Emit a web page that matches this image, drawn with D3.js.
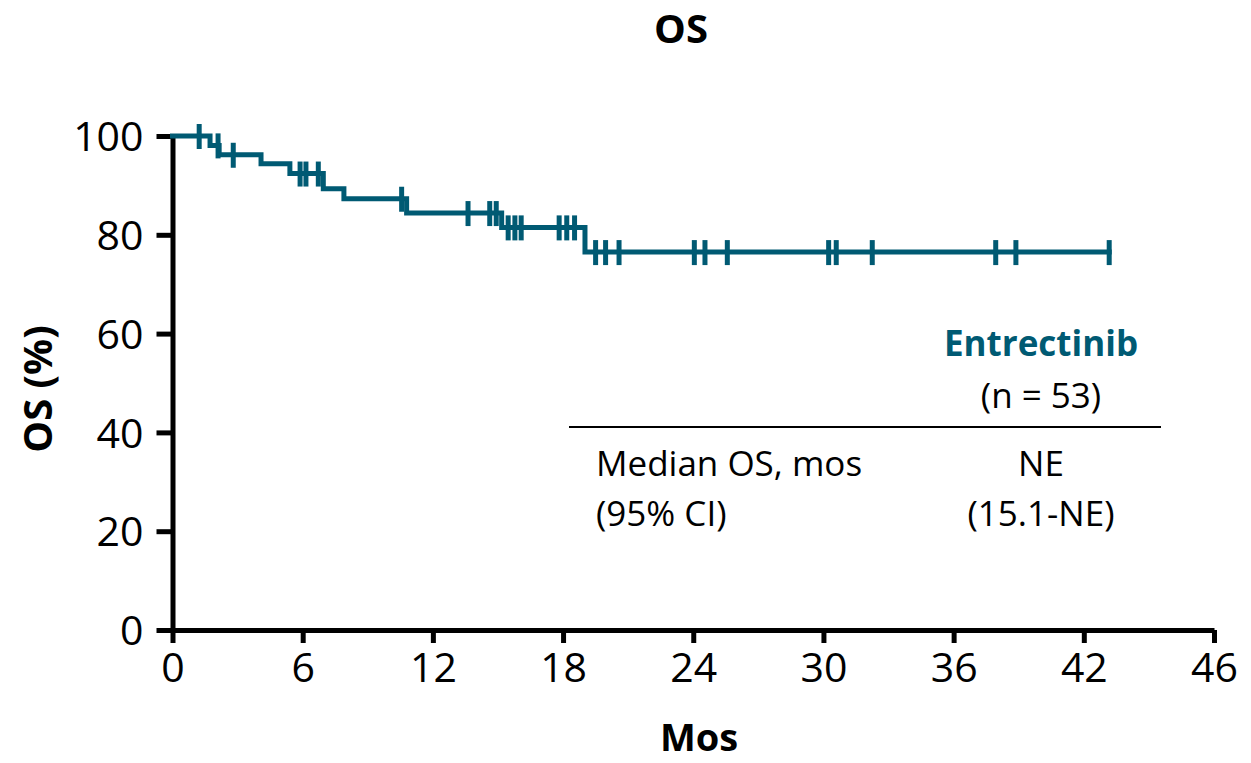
<!DOCTYPE html>
<html lang="en">
<head>
<meta charset="utf-8">
<title>OS</title>
<script src="https://d3js.org/d3.v7.min.js"></script>
<style>
  body { margin: 0; background: #fff; }
  svg { display: block; font-family: "Open Sans", "Noto Sans", sans-serif; }
  .axis path, .axis line { stroke: #000; stroke-width: 5px; }
  .axis text { fill: #000; font-size: 41px; font-family: "Open Sans", "Noto Sans", sans-serif; }
</style>
</head>
<body>
<div id="main"></div>
<script>
  // Kaplan-Meier steps (months, OS %)
  const stepTimes = [0, 1.73, 2.15, 4.08, 5.41, 6.95, 7.9, 10.79, 15.17, 19.01];
  const stepSurv = [100, 98.1, 96.2, 94.4, 92.4, 89.3, 87.3, 84.4, 81.5, 76.5];
  const lastTime = 43.17;
  const censorTimes = [1.23, 2.1, 2.8, 5.88, 6.15, 6.72, 10.56, 13.62, 14.62, 14.92,
    15.47, 15.78, 16.07, 17.82, 18.17, 18.53, 19.5, 19.96, 20.58, 24.05, 24.54,
    25.57, 30.24, 30.59, 32.25, 37.94, 38.87, 43.17];

  const xTicks = [0, 6, 12, 18, 24, 30, 36, 42, 48];
  const xTickLabels = ['0', '6', '12', '18', '24', '30', '36', '42', '46'];
  const yTicks = [0, 20, 40, 60, 80, 100];

  const armName = 'Entrectinib';
  const armN = '(n = 53)';
  const rowLabels = ['Median OS, mos', '(95% CI)'];
  const rowValues = ['NE', '(15.1-NE)'];

  const width = 1251;
  const height = 763;
  const teal = '#005a73';

  const svg = d3.select('#main')
    .append('svg')
    .attr('width', width)
    .attr('height', height);

  const xScale = d3.scaleLinear()
    .domain([0, 48])
    .range([172.5, 1214]);

  const yScale = d3.scaleLinear()
    .domain([0, 100])
    .range([630, 136]);

  // axes
  const xAxis = d3.axisBottom(xScale)
    .tickValues(xTicks)
    .tickSize(13)
    .tickSizeOuter(0)
    .tickFormat((d, i) => xTickLabels[i]);

  const gx = svg.append('g')
    .attr('class', 'axis')
    .attr('transform', `translate(0, ${yScale(0)})`)
    .call(xAxis)
    .attr('font-family', null)
    .attr('font-size', null);
  gx.selectAll('text').attr('y', 22).attr('dy', '0.72em');

  const yAxis = d3.axisLeft(yScale)
    .tickValues(yTicks)
    .tickSize(16)
    .tickSizeOuter(0);

  const gy = svg.append('g')
    .attr('class', 'axis')
    .attr('transform', `translate(${xScale(0)}, 0)`)
    .call(yAxis)
    .attr('font-family', null)
    .attr('font-size', null);
  gy.selectAll('text').attr('x', -29).attr('dy', '0.36em');

  // curve
  const pts = stepTimes.map((t, i) => [t, stepSurv[i]]);
  pts.push([lastTime, stepSurv[stepSurv.length - 1]]);

  const line = d3.line()
    .x(d => xScale(d[0]))
    .y(d => yScale(d[1]))
    .curve(d3.curveStepAfter);

  svg.append('path')
    .datum(pts)
    .attr('d', line)
    .attr('fill', 'none')
    .attr('stroke', teal)
    .attr('stroke-width', 5)
    .attr('stroke-linecap', 'square');

  const survAt = t => {
    let s = stepSurv[0];
    stepTimes.forEach((st, i) => { if (st <= t) s = stepSurv[i]; });
    return s;
  };

  svg.selectAll('line.censor')
    .data(censorTimes)
    .enter()
    .append('line')
    .attr('class', 'censor')
    .attr('x1', d => xScale(d))
    .attr('x2', d => xScale(d))
    .attr('y1', d => yScale(survAt(d)) - 12)
    .attr('y2', d => yScale(survAt(d)) + 13)
    .attr('stroke', teal)
    .attr('stroke-width', 5);

  // titles
  svg.append('text')
    .text('OS')
    .attr('x', 681)
    .attr('y', 43)
    .attr('text-anchor', 'middle')
    .attr('font-size', 40)
    .attr('font-weight', 'bold');

  svg.append('text')
    .text('Mos')
    .attr('x', 699)
    .attr('y', 751)
    .attr('text-anchor', 'middle')
    .attr('font-size', 38)
    .attr('font-weight', 'bold');

  svg.append('text')
    .text('OS (%)')
    .attr('transform', 'translate(52, 389) rotate(-90)')
    .attr('text-anchor', 'middle')
    .attr('font-size', 40)
    .attr('font-weight', 'bold');

  // inset table
  const colX = 1041;
  svg.append('text')
    .text(armName)
    .attr('x', colX)
    .attr('y', 356)
    .attr('text-anchor', 'middle')
    .attr('font-size', 35)
    .attr('font-weight', 'bold')
    .attr('fill', teal);

  svg.append('text')
    .text(armN)
    .attr('x', colX)
    .attr('y', 408)
    .attr('text-anchor', 'middle')
    .attr('font-size', 35);

  svg.append('line')
    .attr('x1', 569)
    .attr('x2', 1161)
    .attr('y1', 427)
    .attr('y2', 427)
    .attr('stroke', '#000')
    .attr('stroke-width', 2);

  rowLabels.forEach((lab, i) => {
    svg.append('text')
      .text(lab)
      .attr('x', 596)
      .attr('y', 476 + i * 50)
      .attr('font-size', 35);
    svg.append('text')
      .text(rowValues[i])
      .attr('x', colX)
      .attr('y', 476 + i * 50)
      .attr('text-anchor', 'middle')
      .attr('font-size', 35);
  });
</script>
</body>
</html>
